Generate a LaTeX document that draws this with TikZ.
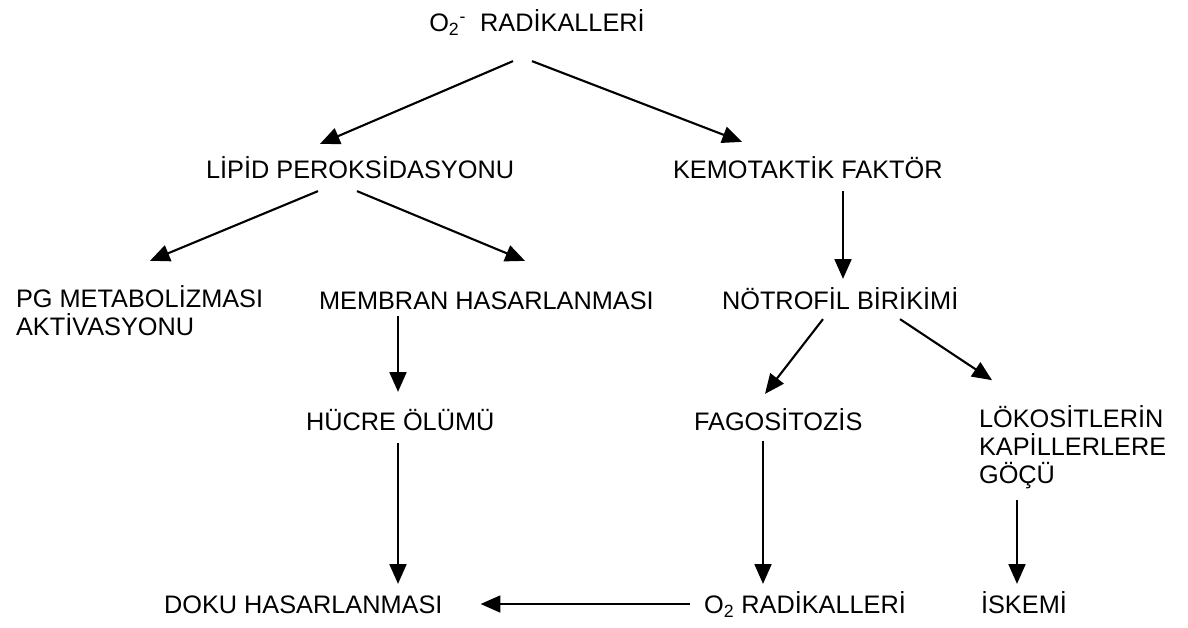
\documentclass[tikz,border=0pt]{standalone}
\usepackage{fontspec}
\setmainfont{Liberation Sans}
\usepackage{tikz}
\usetikzlibrary{arrows.meta}
\usetikzlibrary{positioning}
\tikzstyle{term} = [inner sep=0pt, font=\fontsize{18}{20}\selectfont, align=left]
\tikzstyle{oneline} = [term, text height=12.9pt, text depth=0pt]

\begin{document}
\begin{tikzpicture}[x=0.025cm, y=-0.025cm, >={Triangle[length=14pt,width=12pt]}, line width=1.5pt]
    \useasboundingbox (0,0) rectangle (1188,627);

    % We start by placing the terms, row by row
    \node [oneline] (top) at (537,22) {O\textsubscript{2}\textsuperscript{-}\ \ RADİKALLERİ};

    \node [oneline, anchor=west] (lipid) at (205,169) {LİPİD PEROKSİDASYONU};
    \node [oneline, anchor=west] (kemo) at (672,169) {KEMOTAKTİK FAKTÖR};

    \node [term, anchor=west] (pg) at (15,311) {PG METABOLİZMASI\\AKTİVASYONU};
    \node [oneline, anchor=west] (membran) at (318,300) {MEMBRAN HASARLANMASI};
    \node [oneline, anchor=west] (notrofil) at (721,300) {NÖTROFİL BİRİKİMİ};

    \node [oneline, anchor=west] (hucre) at (305,421) {HÜCRE ÖLÜMÜ};
    \node [oneline, anchor=west] (fago) at (693,421) {FAGOSİTOZİS};
    \node [term, anchor=west] (loko) at (978,447) {LÖKOSİTLERİN\\KAPİLLERLERE\\GÖÇÜ};

    \node [oneline, anchor=west] (doku) at (163,604) {DOKU HASARLANMASI};
    \node [oneline, anchor=west] (o2rad) at (703,604) {O\textsubscript{2} RADİKALLERİ};
    \node [oneline, anchor=west] (iskemi) at (980,604) {İSKEMİ};

    % Once the terms are placed, the arrows go between them
    \draw [->] ([shift={(-24,29)}]top.south) -- ([shift={(115,-15)}]lipid.north west);
    \draw [->] ([shift={(-5,29)}]top.south) -- ([shift={(70,-17)}]kemo.north west);
    \draw [->] ([shift={(113,12)}]lipid.south west) -- ([shift={(135,-24)}]pg.north west);
    \draw [->] ([shift={(152,12)}]lipid.south west) -- ([shift={(207,-29)}]membran.north west);
    \draw [->] ([shift={(171,12)}]kemo.south west) -- ([shift={(122,-11)}]notrofil.north west);
    \draw [->] ([shift={(80,6)}]membran.south west) -- ([shift={(93,-19)}]hucre.north west);
    \draw [->] ([shift={(102,9)}]notrofil.south west) -- ([shift={(72,-17)}]fago.north west);
    \draw [->] ([shift={(179,9)}]notrofil.south west) -- ([shift={(14,-24)}]loko.north west);
    \draw [->] ([shift={(93,12)}]hucre.south west) -- ([shift={(235,-10)}]doku.north west);
    \draw [->] ([shift={(70,10)}]fago.south west) -- ([shift={(60,-10)}]o2rad.north west);
    \draw [->] ([shift={(39,10)}]loko.south west) -- ([shift={(37,-10)}]iskemi.north west);
    \draw [->] ([shift={(-13,0)}]o2rad.west) -- ([shift={(37,0)}]doku.east);
\end{tikzpicture}
\end{document}
